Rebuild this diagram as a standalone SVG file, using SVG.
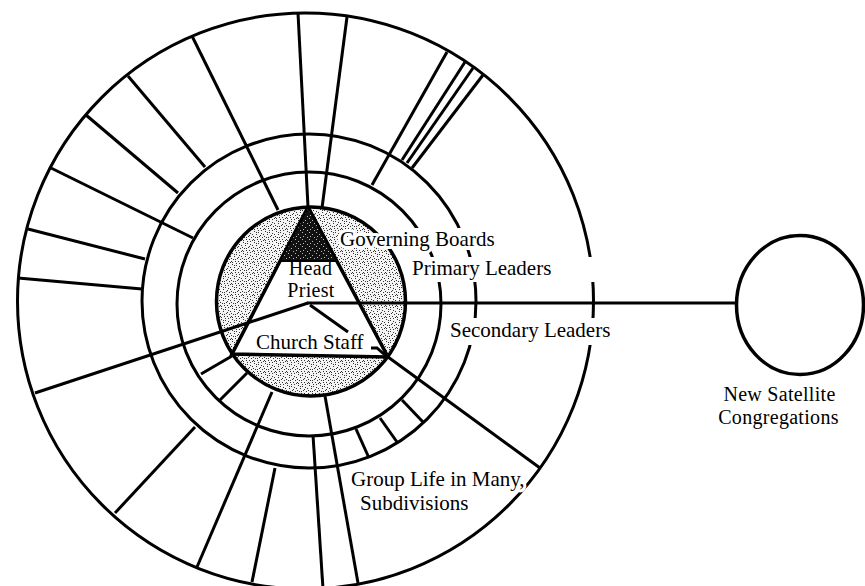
<svg xmlns="http://www.w3.org/2000/svg" width="865" height="586" viewBox="0 0 865 586">
<style>
.ln{stroke:#000;stroke-width:3;fill:none;stroke-linecap:butt}
.ring{stroke:#000;stroke-width:3;fill:none}
.t{font-family:"Liberation Serif","Times New Roman",serif;font-size:21px;fill:#000}
.s{font-size:20px;letter-spacing:0.3px}
.halo{stroke:#fff;stroke-width:6;paint-order:stroke;stroke-linejoin:round}
.box{fill:#fff;stroke:none}
</style>
<defs>
<pattern id="stip" width="11" height="11" patternUnits="userSpaceOnUse">
<rect width="11" height="11" fill="#f4f4f4"/>
<g fill="#333">
<rect x="1" y="0" width="1" height="1"/><rect x="5" y="1" width="1" height="1"/><rect x="8" y="2" width="1" height="1"/>
<rect x="3" y="3" width="1" height="1"/><rect x="10" y="3" width="1" height="1"/><rect x="0" y="5" width="1" height="1"/>
<rect x="6" y="5" width="1" height="1"/><rect x="2" y="6" width="1" height="1"/><rect x="9" y="6" width="1" height="1"/>
<rect x="4" y="8" width="1" height="1"/><rect x="7" y="8" width="1" height="1"/><rect x="1" y="9" width="1" height="1"/>
<rect x="10" y="9" width="1" height="1"/><rect x="5" y="10" width="1" height="1"/><rect x="8" y="10" width="1" height="1"/>
<rect x="3" y="1" width="1" height="1"/><rect x="7" y="4" width="1" height="1"/><rect x="4" y="6" width="1" height="1"/>
<rect x="0" y="8" width="1" height="1"/>
</g>
</pattern>
<pattern id="dark" width="7" height="7" patternUnits="userSpaceOnUse">
<rect width="7" height="7" fill="#111"/>
<g fill="#bbb"><rect x="1" y="1" width="1" height="1"/><rect x="4" y="3" width="1" height="1"/><rect x="2" y="5" width="1" height="1"/><rect x="6" y="6" width="1" height="1"/></g>
</pattern>
</defs>
<rect width="865" height="586" fill="#fff"/>

<g id="core">
<circle cx="311" cy="301.5" r="94.5" fill="url(#stip)" stroke="#000" stroke-width="3.5"/>
<polygon points="308,207 232,354 388,357" fill="#fff" stroke="#000" stroke-width="3.5" stroke-linejoin="miter"/>
<polygon points="308,207 280,261 337,261" fill="url(#dark)" stroke="#000" stroke-width="2"/>
</g>

<g id="ring-primary"><circle class="ring" cx="309" cy="304" r="132"/></g>
<g id="ring-secondary"><circle class="ring" cx="309" cy="301" r="167"/></g>
<g id="ring-group"><circle class="ring" cx="305.5" cy="301" r="288"/></g>

<g id="connectors">
<path class="ln" d="M192,36 L278,210"/>
<path class="ln" d="M298,13 L308,207"/>
<path class="ln" d="M347,17 L322,208"/>
<path class="ln" d="M447,52 L372,185"/>
<path class="ln" d="M465,62 L402,160"/>
<path class="ln" d="M473,68 L407,163"/>
<path class="ln" d="M483,75 L412,168"/>
<path class="ln" d="M128,76 L205,167"/>
<path class="ln" d="M86,115 L178,193"/>
<path class="ln" d="M51,168 L193,238"/>
<path class="ln" d="M28,229 L145,259"/>
<path class="ln" d="M18,278 L142,289"/>
<path class="ln" d="M35,393 L308,303"/>
<path class="ln" d="M307,303 L737,303"/>
<path class="ln" d="M310,305 L348,332"/>
<path class="ln" d="M371,348 L377,348 L386,356" stroke-width="2"/>
<path class="ln" d="M388,357 L540,468"/>
<path class="ln" d="M402,400 L423,422"/>
<path class="ln" d="M380,418 L397,442"/>
<path class="ln" d="M356,429 L369,458"/>
<path class="ln" d="M325,396 L358,583"/>
<path class="ln" d="M313,435 L323,589"/>
<path class="ln" d="M275,468 L252,582"/>
<path class="ln" d="M272,392 L197,567"/>
<path class="ln" d="M195,427 L115,513"/>
<path class="ln" d="M247,373 L220,400"/>
<path class="ln" d="M232,356 L201,374"/>
</g>

<g id="satellite">
<ellipse cx="800" cy="305" rx="63.5" ry="69.5" fill="#fff" stroke="#000" stroke-width="3.5"/>
<text class="t s" x="779.5" y="401" text-anchor="middle">New Satellite</text>
<text class="t s" x="778.5" y="424" text-anchor="middle">Congregations</text>
</g>

<g id="labels">
<rect class="box" x="392" y="228" width="108" height="22"/>
<rect class="box" x="408" y="257" width="195" height="25"/>
<rect class="box" x="446" y="318" width="168" height="27"/>
<text class="t halo" x="340" y="246">Governing Boards</text>
<text class="t s" x="310.5" y="275" text-anchor="middle">Head</text>
<text class="t s" x="311" y="297" text-anchor="middle">Priest</text>
<text class="t" x="256" y="349">Church Staff</text>
<text class="t" x="412" y="275">Primary Leaders</text>
<text class="t" x="450" y="337">Secondary Leaders</text>
<text class="t halo" x="351" y="486">Group Life in Many,</text>
<text class="t halo" x="360" y="510">Subdivisions</text>
</g>
</svg>
